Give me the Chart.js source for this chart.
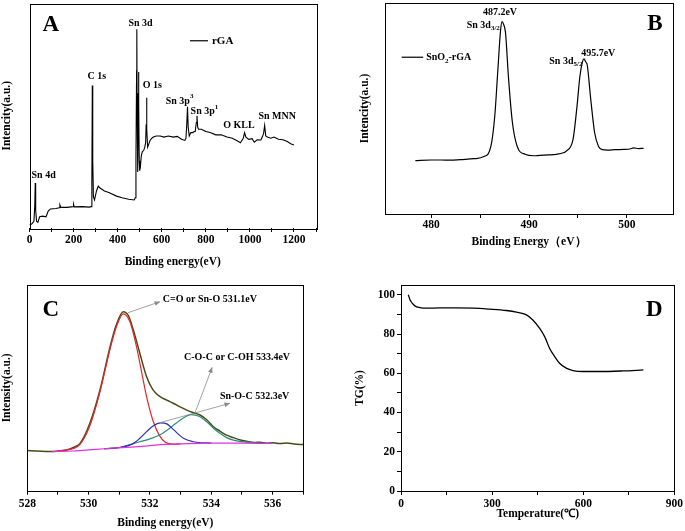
<!DOCTYPE html>
<html>
<head>
<meta charset="utf-8">
<script src="https://cdn.jsdelivr.net/npm/chart.js@4.4.0/dist/chart.umd.min.js"></script>
<style>
  html, body { margin: 0; padding: 0; background: #fff; }
  #wrap { position: relative; width: 685px; height: 531px; overflow: hidden; }
  canvas { position: absolute; }
</style>
</head>
<body>
<div id="wrap">
  <canvas id="chartA" width="342" height="270" style="left:0;top:0"></canvas>
  <canvas id="chartB" width="343" height="270" style="left:342px;top:0"></canvas>
  <canvas id="chartC" width="342" height="261" style="left:0;top:270px"></canvas>
  <canvas id="chartD" width="343" height="261" style="left:342px;top:270px"></canvas>
</div>
<script>
const FONT = "'Liberation Serif', 'Times New Roman', serif";

// A: XPS survey of rGA
const surveyEnergy = [
  0, 10, 20, 24, 26, 28, 32, 38, 46, 60,
  75, 85, 95, 120, 135, 138, 142, 170, 198, 200,
  203, 240, 270, 280, 283, 285, 287, 290, 295, 304,
  312, 320, 340, 360, 395, 420, 450, 475, 480, 483,
  486, 487, 488, 490, 492, 494, 495, 496, 498, 500,
  503, 507, 512, 518, 523, 527, 529, 531, 533, 536,
  540, 547, 555, 562, 575, 593, 610, 630, 653, 670,
  690, 705, 710, 714, 717, 720, 725, 732, 740, 748,
  752, 757, 760, 763, 767, 780, 800, 820, 845, 870,
  896, 920, 940, 957, 970, 976, 982, 995, 1010, 1020,
  1033, 1050, 1056, 1062, 1067, 1072, 1079, 1095, 1109, 1130,
  1150, 1170, 1185, 1200
];
const surveyCounts = [
  1.5, 1.8, 3, 10, 20, 8, 3, 2.5, 5, 5.3,
  5, 7.5, 8.5, 8.7, 9, 10.3, 9.2, 9.2, 9.5, 10.5,
  9.4, 9.5, 9.3, 9.5, 20, 63.5, 30, 14, 12.5, 16.5,
  18.7, 17.8, 16.5, 15.8, 14.2, 13.5, 12.8, 12.5, 13.5, 30,
  70, 88.5, 60, 30, 25, 55, 69.5, 55, 30, 25.5,
  27, 32, 34, 34.5, 36, 38, 45, 58, 44, 36,
  37, 39, 40, 40.5, 41, 41, 40.5, 41, 40.5, 40.8,
  39.5, 39, 40, 47, 54, 45, 41, 42.5, 42.5, 43,
  43, 47, 50, 45, 44, 44, 43, 42.5, 41.5, 41.5,
  40.5, 40, 39, 38, 40, 42.5, 40.5, 39.5, 39.8, 38.2,
  39.3, 39.2, 40.5, 42, 45.7, 41, 40.5, 40, 40.5, 39.5,
  39.3, 38.5, 37.5, 37
];

// B: Sn 3d of SnO2-rGA
const sn3dEnergy = [478.4, 480, 481, 482, 483, 484.4, 485.4, 486.1, 486.5, 486.8,
  487.1, 487.25, 487.4, 487.6, 487.9, 488.3, 488.8, 489.6, 490.5, 491.1,
  492, 492.8, 493.5, 493.8, 494.5, 494.9, 495.2, 495.45, 495.6, 495.8,
  495.95, 496.3, 496.7, 497.1, 497.5, 498, 498.8, 499.7, 500.3, 500.7,
  501.2, 501.7];
const sn3dCounts = [25.3, 25.6, 25.6, 25.5, 25.8, 26.2, 27.2, 31.9, 46.1, 66.7,
  87.2, 91.2, 90, 86, 65, 43.6, 32, 28.3, 27.6, 27.8,
  28, 28.3, 29, 29.8, 35.5, 51, 65.4, 72, 73.5, 72,
  70.5, 54.5, 38.5, 32, 30.5, 30.3, 30.5, 30.6, 30.8, 31.3,
  31, 31.1];

// C: O 1s with fitted components
const o1sEnergy = [528, 528.3, 528.74, 529, 529.28, 529.5, 529.72, 530.04, 530.37, 530.7,
  530.9, 531.13, 531.3, 531.46, 531.67, 531.89, 532.1, 532.33, 532.55, 532.76,
  533, 533.2, 533.4, 533.63, 533.85, 534.07, 534.28, 534.5, 534.72, 534.95,
  535.15, 535.4, 535.59, 535.8, 536.02, 536.25, 536.46, 536.7, 537];
const o1sCounts = [19.5, 19.3, 19, 19.3, 19.8, 21, 23, 32.8, 49, 70,
  80.5, 87, 85, 78, 66.8, 55.4, 49, 45.7, 44, 42.5,
  40.6, 39.2, 38, 36.8, 34.5, 31.1, 29, 27, 25.8, 24.6,
  24, 23.4, 23.6, 23.1, 23.3, 22.9, 23.2, 22.7, 22.4];
const snOEnergy = [529, 529.5, 529.72, 530.04, 530.37, 530.7, 530.9, 531.13, 531.35, 531.56,
  531.75, 531.9, 532.1, 532.3, 532.5, 532.76, 533];
const snOCounts = [19.3, 20.5, 22.5, 31.5, 48, 69, 79.5, 86, 82, 70,
  56, 45, 34, 27, 23.5, 22.6, 22.8];
const snOCEnergy = [530.5, 531, 531.46, 531.67, 531.89, 532.1, 532.35, 532.55, 532.76, 533.09,
  533.41, 533.7, 534];
const snOCCounts = [20.4, 20.9, 23, 25.5, 28.7, 31.5, 33, 32.5, 29.8, 25.5,
  23.8, 23.3, 23.2];
const cocEnergy = [530.5, 531, 531.67, 532, 532.35, 532.7, 533, 533.2, 533.36, 533.6,
  533.85, 534.1, 534.28, 534.5, 534.72, 535.15, 535.5, 536];
const cocCounts = [20.4, 21, 23.8, 25.2, 27.3, 31, 34.5, 36.3, 37, 36.2,
  33.5, 30, 27.9, 25.8, 24.6, 23.6, 23.2, 23];
const bgEnergy = [528.8, 529.5, 530, 530.5, 531, 531.5, 532, 532.5, 533, 534, 535, 536];
const bgCounts = [19, 19.3, 19.8, 20.4, 20.9, 21.3, 21.9, 22.5, 22.8, 23.1, 23.1, 23];

// D: TG curve
const tempC = [24, 30, 40, 50, 62, 84, 128, 180, 238, 292,
  347, 380, 413, 434, 456, 473, 489, 506, 522, 544,
  566, 599, 654, 730, 798];
const tgPercent = [100, 97.4, 95.2, 94, 93.5, 93.2, 93.3, 93.3, 93.2, 92.7,
  92, 91.2, 89.8, 87.2, 83, 78.7, 72.8, 68.5, 65.1, 62.6,
  61.4, 60.9, 60.9, 61.2, 61.7];

function toPoints(xs, ys) {
  return xs.map((x, i) => ({x: x, y: ys[i]}));
}

function onStep(v, every) {
  const k = v / every;
  return Math.abs(k - Math.round(k)) < 1e-6;
}

function series(xs, ys, color, width, smooth) {
  return {
    data: toPoints(xs, ys),
    borderColor: color,
    borderWidth: width,
    pointRadius: 0,
    fill: false,
    tension: 0,
    cubicInterpolationMode: smooth ? 'monotone' : 'default'
  };
}

function xAxis(min, max, step, every, text, height, tickPad, titlePad) {
  return {
    type: 'linear', min: min, max: max,
    afterFit: s => { s.height = height; },
    border: {display: false},
    grid: {drawOnChartArea: false, drawTicks: true, tickLength: 4, color: '#000', tickColor: '#000'},
    ticks: {
      stepSize: step, includeBounds: false, autoSkip: false, maxRotation: 0,
      padding: tickPad, color: '#000',
      font: {family: FONT, size: 11.5, weight: 'bold'},
      callback: v => (onStep(v, every) ? Math.round(v) : '')
    },
    title: {display: true, text: text, color: '#000', padding: {top: 0, bottom: titlePad},
      font: {family: FONT, size: 11.5, weight: 'bold'}}
  };
}

function yAxis(min, max, width, text, titlePad, labelled) {
  return {
    type: 'linear', min: min, max: max,
    afterFit: s => { s.width = width; },
    border: {display: false},
    grid: {display: !!labelled, drawOnChartArea: false, tickLength: 4, color: '#000', tickColor: '#000'},
    ticks: labelled ? {
      stepSize: 10, includeBounds: false, autoSkip: false, padding: 2, color: '#000',
      font: {family: FONT, size: 11.5, weight: 'bold'},
      callback: v => (onStep(v, 20) ? Math.round(v) : '')
    } : {display: false},
    title: {display: true, text: text, color: '#000', padding: {top: titlePad, bottom: 0},
      font: {family: FONT, size: 11.5, weight: 'bold'}}
  };
}

function drawRuns(ctx, px, py, note) {
  const size = note.size || 10;
  const parts = note.runs.map(r => {
    const s = r[1] ? size * 0.7 : size;
    const font = 'bold ' + s + 'px ' + FONT;
    ctx.font = font;
    return {t: r[0], kind: r[1], font: font, w: ctx.measureText(r[0]).width};
  });
  const total = parts.reduce((s, p) => s + p.w, 0);
  let cx = note.align === 'center' ? px - total / 2 : px;
  ctx.fillStyle = '#000';
  ctx.textAlign = 'left';
  ctx.textBaseline = 'middle';
  parts.forEach(p => {
    ctx.font = p.font;
    const dy = p.kind === 'sub' ? size * 0.35 : p.kind === 'sup' ? -size * 0.5 : 0;
    ctx.fillText(p.t, cx, py + dy);
    cx += p.w;
  });
}

// frame, arrows, legend line and labels, placed in data units
function overlay(notes, arrows, legendLine) {
  return {
    id: 'overlay',
    afterDatasetsDraw(chart) {
      const {ctx, chartArea: a, scales: {x, y}} = chart;
      ctx.save();
      ctx.strokeStyle = '#000';
      ctx.lineWidth = 1;
      ctx.strokeRect(Math.round(a.left) + 0.5, Math.round(a.top) + 0.5,
        Math.round(a.width), Math.round(a.height));

      arrows.forEach(ar => {
        const x1 = x.getPixelForValue(ar[0]), y1 = y.getPixelForValue(ar[1]);
        const x2 = x.getPixelForValue(ar[2]), y2 = y.getPixelForValue(ar[3]);
        const ang = Math.atan2(y2 - y1, x2 - x1);
        ctx.strokeStyle = '#8a8a8a';
        ctx.fillStyle = '#8a8a8a';
        ctx.lineWidth = 0.8;
        ctx.beginPath();
        ctx.moveTo(x1, y1);
        ctx.lineTo(x2, y2);
        ctx.stroke();
        ctx.beginPath();
        ctx.moveTo(x2, y2);
        ctx.lineTo(x2 - 6 * Math.cos(ang - 0.4), y2 - 6 * Math.sin(ang - 0.4));
        ctx.lineTo(x2 - 6 * Math.cos(ang + 0.4), y2 - 6 * Math.sin(ang + 0.4));
        ctx.closePath();
        ctx.fill();
      });

      if (legendLine) {
        ctx.strokeStyle = '#000';
        ctx.lineWidth = 1.2;
        ctx.beginPath();
        ctx.moveTo(x.getPixelForValue(legendLine[0]), y.getPixelForValue(legendLine[2]));
        ctx.lineTo(x.getPixelForValue(legendLine[1]), y.getPixelForValue(legendLine[2]));
        ctx.stroke();
      }

      notes.forEach(n => drawRuns(ctx, x.getPixelForValue(n.x), y.getPixelForValue(n.y), n));
      ctx.restore();
    }
  };
}

function baseOptions(padding, x, y) {
  return {
    responsive: false,
    animation: false,
    layout: {padding: padding},
    plugins: {legend: {display: false}, tooltip: {enabled: false}},
    scales: {x: x, y: y}
  };
}

const notesA = [
  {x: 97, y: 90.6, size: 23, align: 'center', runs: [['A']]},
  {x: 64, y: 23.6, align: 'center', runs: [['Sn 4d']]},
  {x: 305, y: 67.7, align: 'center', runs: [['C 1s']]},
  {x: 504, y: 91.2, align: 'center', runs: [['Sn 3d']]},
  {x: 557, y: 63.7, align: 'center', runs: [['O 1s']]},
  {x: 618, y: 56.3, runs: [['Sn 3p'], ['3', 'sup']]},
  {x: 731, y: 51.8, runs: [['Sn 3p'], ['1', 'sup']]},
  {x: 950, y: 45.9, align: 'center', runs: [['O KLL']]},
  {x: 1124, y: 49.6, align: 'center', runs: [['Sn MNN']]},
  {x: 828, y: 83.4, size: 11, runs: [['rGA']]}
];

const notesB = [
  {x: 502.86, y: 90, size: 23, align: 'center', runs: [['B']]},
  {x: 487.04, y: 95.7, align: 'center', runs: [['487.2eV']]},
  {x: 483.64, y: 89.6, runs: [['Sn 3d'], ['3/2', 'sub']]},
  {x: 492.07, y: 72.5, runs: [['Sn 3d'], ['5/2', 'sub']]},
  {x: 497.07, y: 76.2, align: 'center', runs: [['495.7eV']]},
  {x: 479.5, y: 74.3, runs: [['SnO'], ['2', 'sub'], ['-rGA']]}
];

const notesC = [
  {x: 528.77, y: 87.8, size: 23, align: 'center', runs: [['C']]},
  {x: 532.42, y: 93.2, runs: [['C=O or Sn-O 531.1eV']]},
  {x: 533.11, y: 65, runs: [['C-O-C or C-OH 533.4eV']]},
  {x: 534.28, y: 46, runs: [['Sn-O-C 532.3eV']]}
];
const arrowsC = [
  [531.28, 86.5, 532.33, 91.9],
  [533.47, 37.9, 534.03, 60],
  [532.33, 33.1, 534.61, 42.5]
];

const notesD = [
  {x: 834, y: 92.3, size: 23, align: 'center', runs: [['D']]}
];

new Chart(document.getElementById('chartA'), {
  type: 'line',
  data: {datasets: [series(surveyEnergy, surveyCounts, '#000', 1.1, false)]},
  options: baseOptions({top: 3.5, right: 26},
    xAxis(0, 1300, 100, 200, 'Binding energy(eV)', 42, 1, 1),
    yAxis(0, 100, 29.5, 'Intencity(a.u.)', 0, false)),
  plugins: [overlay(notesA, [], [728, 810, 83.4])]
});

new Chart(document.getElementById('chartB'), {
  type: 'line',
  data: {datasets: [series(sn3dEnergy, sn3dCounts, '#000', 1.2, true)]},
  options: baseOptions({top: 3, right: 12},
    xAxis(475.3, 504.7, 5, 10, 'Binding Energy（eV）', 56, 0, 21),
    yAxis(0, 100, 43, 'Intencity(a.u.)', 16, false)),
  plugins: [overlay(notesB, [], [477.0, 479.2, 74.3])]
});

new Chart(document.getElementById('chartC'), {
  type: 'line',
  data: {datasets: [
    series(bgEnergy, bgCounts, '#e22fe0', 1.2, true),
    series(snOCEnergy, snOCCounts, '#2b30b8', 1.2, true),
    series(cocEnergy, cocCounts, '#2a8c7a', 1.2, true),
    series(snOEnergy, snOCounts, '#e3262e', 1.2, true),
    series(o1sEnergy, o1sCounts, '#4a4a16', 1.5, true)
  ]},
  options: baseOptions({top: 15, right: 38.7},
    xAxis(528, 537, 1, 2, 'Binding energy(eV)', 40.3, 2, 1.4),
    yAxis(0, 100, 27.3, 'Intensity(a.u.)', 0, false)),
  plugins: [overlay(notesC, arrowsC, null)]
});

new Chart(document.getElementById('chartD'), {
  type: 'line',
  data: {datasets: [series(tempC, tgPercent, '#000', 1.3, true)]},
  options: baseOptions({top: 15, right: 10},
    xAxis(0, 900, 150, 300, 'Temperature(℃)', 40, 2, 10),
    yAxis(0, 105, 59, 'TG(%)', 11, true)),
  plugins: [overlay(notesD, [], null)]
});
</script>
</body>
</html>
